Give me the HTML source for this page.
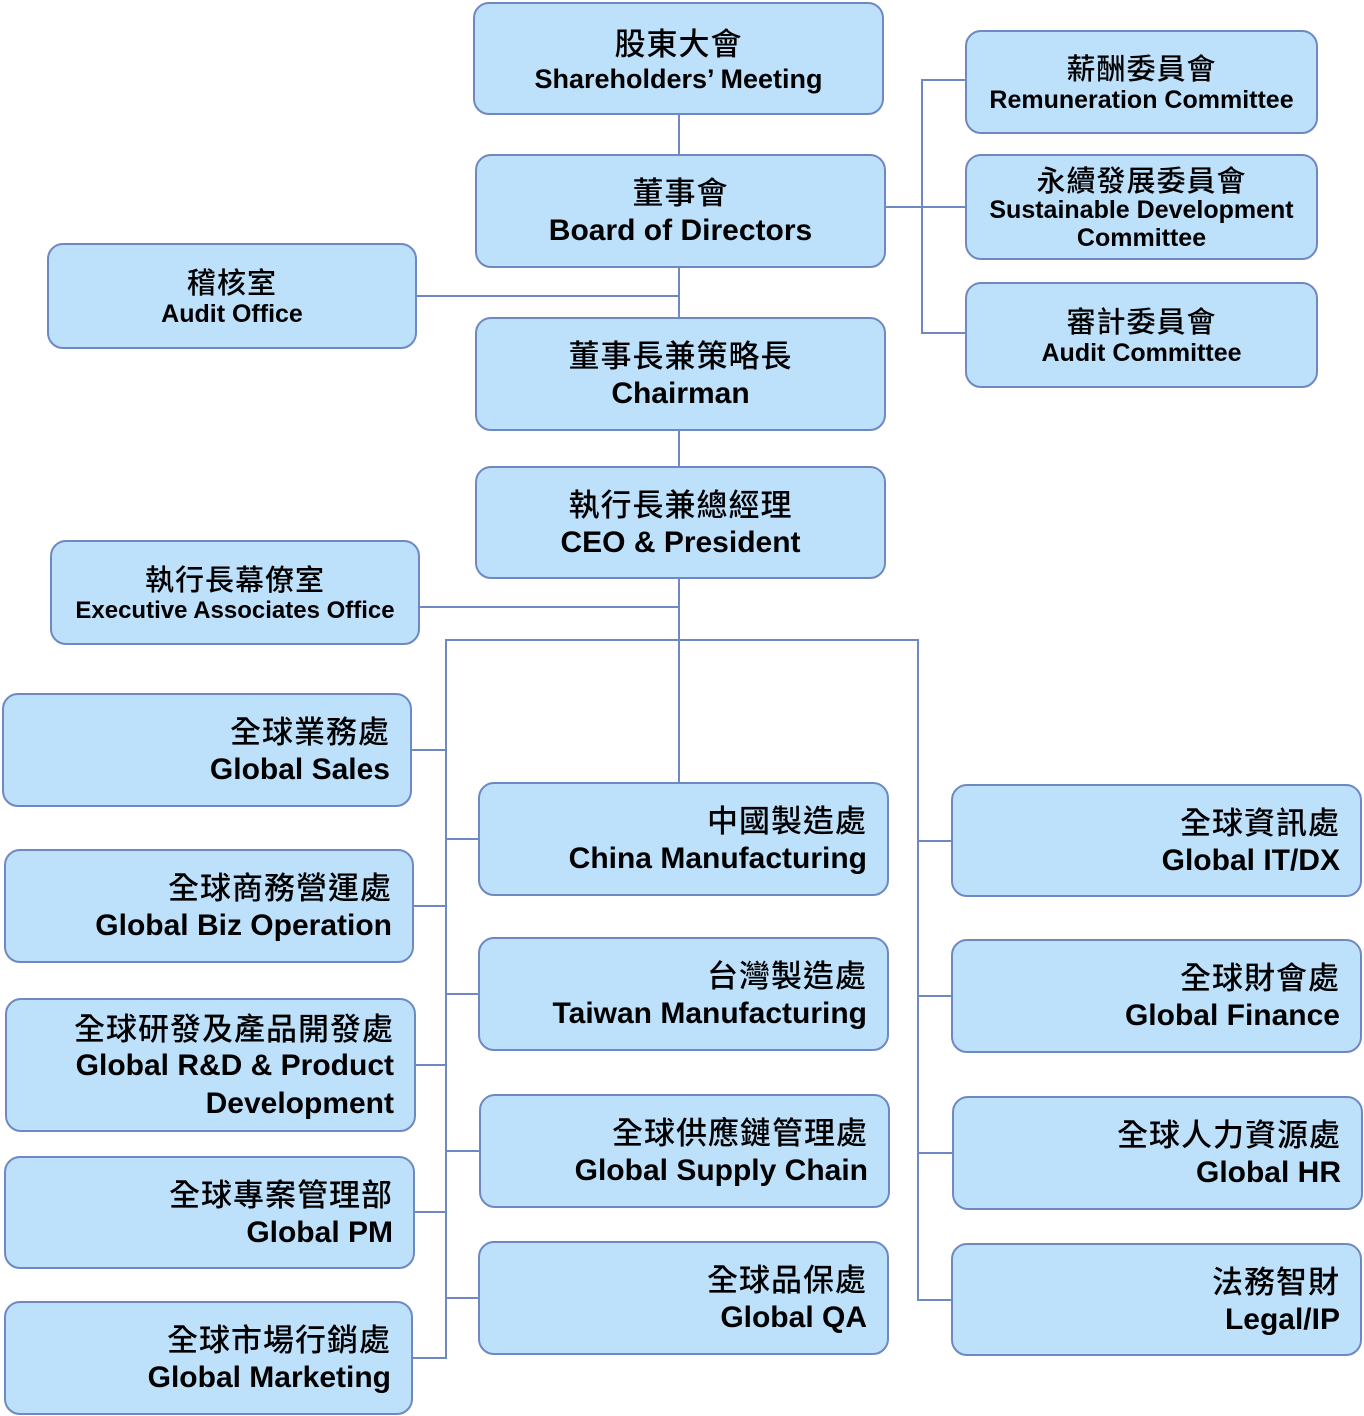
<!DOCTYPE html>
<html><head><meta charset="utf-8"><style>
html,body{margin:0;padding:0;background:#fff;width:1364px;height:1416px;overflow:hidden}
body{position:relative;font-family:"Liberation Sans","Noto Sans CJK TC",sans-serif;color:#000}
.b{position:absolute;box-sizing:border-box;background:#bde0fb;border:2px solid #7088c2;border-radius:16px;display:flex;flex-direction:column;justify-content:center;align-items:center;text-align:center;white-space:nowrap}
.r{align-items:flex-end;text-align:right;padding-right:20px}
.cn{font-family:"Noto Sans CJK TC","Liberation Sans",sans-serif;font-weight:500;letter-spacing:1px}
.en{font-weight:bold}
.L{position:absolute;background:#7088c2}
.big .cn{font-size:31px;line-height:40px}
.big .en{font-size:30px;line-height:40px}
.sm .cn{font-size:29px;line-height:36px}
.sm .en{font-size:25px;line-height:30px}
</style></head><body>
<div class="L" style="left:678px;top:115px;width:2px;height:40px"></div>
<div class="L" style="left:678px;top:268px;width:2px;height:50px"></div>
<div class="L" style="left:678px;top:431px;width:2px;height:36px"></div>
<div class="L" style="left:678px;top:579px;width:2px;height:203px"></div>
<div class="L" style="left:417px;top:295px;width:262px;height:2px"></div>
<div class="L" style="left:420px;top:606px;width:259px;height:2px"></div>
<div class="L" style="left:886px;top:206px;width:36px;height:2px"></div>
<div class="L" style="left:921px;top:79px;width:2px;height:255px"></div>
<div class="L" style="left:921px;top:79px;width:44px;height:2px"></div>
<div class="L" style="left:921px;top:206px;width:44px;height:2px"></div>
<div class="L" style="left:921px;top:332px;width:44px;height:2px"></div>
<div class="L" style="left:445px;top:639px;width:474px;height:2px"></div>
<div class="L" style="left:445px;top:639px;width:2px;height:720px"></div>
<div class="L" style="left:917px;top:639px;width:2px;height:662px"></div>
<div class="L" style="left:412px;top:749px;width:34px;height:2px"></div>
<div class="L" style="left:414px;top:905px;width:32px;height:2px"></div>
<div class="L" style="left:416px;top:1064px;width:30px;height:2px"></div>
<div class="L" style="left:415px;top:1211px;width:31px;height:2px"></div>
<div class="L" style="left:413px;top:1357px;width:33px;height:2px"></div>
<div class="L" style="left:446px;top:838px;width:32px;height:2px"></div>
<div class="L" style="left:446px;top:993px;width:32px;height:2px"></div>
<div class="L" style="left:446px;top:1150px;width:33px;height:2px"></div>
<div class="L" style="left:446px;top:1297px;width:32px;height:2px"></div>
<div class="L" style="left:918px;top:840px;width:33px;height:2px"></div>
<div class="L" style="left:918px;top:995px;width:33px;height:2px"></div>
<div class="L" style="left:918px;top:1152px;width:34px;height:2px"></div>
<div class="L" style="left:918px;top:1299px;width:33px;height:2px"></div>

<div class="b sm" style="left:473px;top:2px;width:411px;height:113px"><div class="cn" style="font-size:31px;line-height:40px">股東大會</div><div class="en" style="font-size:27px;line-height:34px">Shareholders’ Meeting</div></div>
<div class="b big" style="left:475px;top:154px;width:411px;height:114px"><div class="cn">董事會</div><div class="en">Board of Directors</div></div>
<div class="b sm" style="left:47px;top:243px;width:370px;height:106px"><div class="cn">稽核室</div><div class="en">Audit Office</div></div>
<div class="b big" style="left:475px;top:317px;width:411px;height:114px"><div class="cn">董事長兼策略長</div><div class="en">Chairman</div></div>
<div class="b big" style="left:475px;top:466px;width:411px;height:113px"><div class="cn">執行長兼總經理</div><div class="en">CEO &amp; President</div></div>
<div class="b sm" style="left:50px;top:540px;width:370px;height:105px"><div class="cn">執行長幕僚室</div><div class="en" style="font-size:24px">Executive Associates Office</div></div>
<div class="b sm" style="left:965px;top:30px;width:353px;height:104px"><div class="cn">薪酬委員會</div><div class="en">Remuneration Committee</div></div>
<div class="b sm" style="left:965px;top:154px;width:353px;height:106px"><div class="cn" style="line-height:34px">永續發展委員會</div><div class="en" style="line-height:28px">Sustainable Development<br>Committee</div></div>
<div class="b sm" style="left:965px;top:282px;width:353px;height:106px"><div class="cn">審計委員會</div><div class="en">Audit Committee</div></div>

<div class="b big r" style="left:2px;top:693px;width:410px;height:114px"><div class="cn">全球業務處</div><div class="en">Global Sales</div></div>
<div class="b big r" style="left:4px;top:849px;width:410px;height:114px"><div class="cn">全球商務營運處</div><div class="en">Global Biz Operation</div></div>
<div class="b big r" style="left:5px;top:998px;width:411px;height:134px"><div class="cn">全球研發及產品開發處</div><div class="en" style="line-height:38px">Global R&amp;D &amp; Product<br>Development</div></div>
<div class="b big r" style="left:4px;top:1156px;width:411px;height:113px"><div class="cn">全球專案管理部</div><div class="en">Global PM</div></div>
<div class="b big r" style="left:4px;top:1301px;width:409px;height:114px"><div class="cn">全球市場行銷處</div><div class="en">Global Marketing</div></div>

<div class="b big r" style="left:478px;top:782px;width:411px;height:114px"><div class="cn">中國製造處</div><div class="en">China Manufacturing</div></div>
<div class="b big r" style="left:478px;top:937px;width:411px;height:114px"><div class="cn">台灣製造處</div><div class="en">Taiwan Manufacturing</div></div>
<div class="b big r" style="left:479px;top:1094px;width:411px;height:114px"><div class="cn">全球供應鏈管理處</div><div class="en">Global Supply Chain</div></div>
<div class="b big r" style="left:478px;top:1241px;width:411px;height:114px"><div class="cn">全球品保處</div><div class="en">Global QA</div></div>

<div class="b big r" style="left:951px;top:784px;width:411px;height:113px"><div class="cn">全球資訊處</div><div class="en">Global IT/DX</div></div>
<div class="b big r" style="left:951px;top:939px;width:411px;height:114px"><div class="cn">全球財會處</div><div class="en">Global Finance</div></div>
<div class="b big r" style="left:952px;top:1096px;width:411px;height:114px"><div class="cn">全球人力資源處</div><div class="en">Global HR</div></div>
<div class="b big r" style="left:951px;top:1243px;width:411px;height:113px"><div class="cn">法務智財</div><div class="en">Legal/IP</div></div>
</body></html>
